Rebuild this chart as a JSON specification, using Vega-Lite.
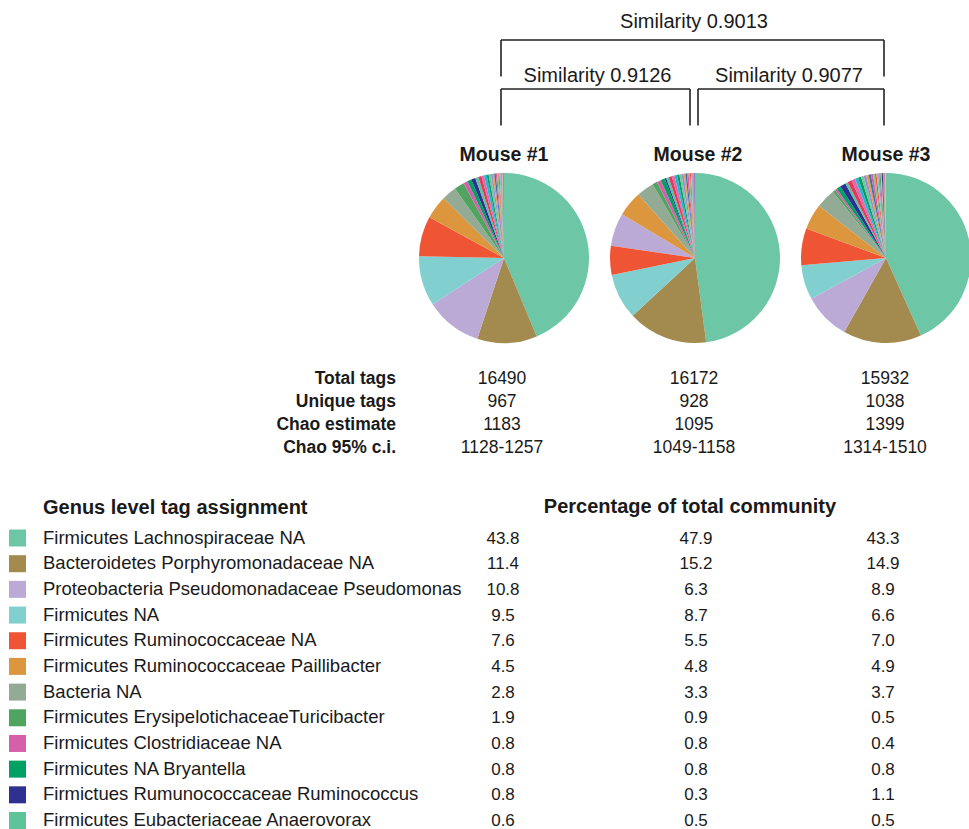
{
  "$schema": "https://vega.github.io/schema/vega-lite/v6.json",
  "width": 969,
  "height": 829,
  "padding": 0,
  "autosize": {"type": "none"},
  "background": "white",
  "config": {
    "view": {"stroke": null},
    "text": {"font": "Liberation Sans", "color": "#1a1a1a"}
  },
  "datasets": {
    "similarity": [
      {"label": "Similarity 0.9013", "from": 1, "to": 3, "level": 2},
      {"label": "Similarity 0.9126", "from": 1, "to": 2, "level": 1},
      {"label": "Similarity 0.9077", "from": 2, "to": 3, "level": 1}
    ],
    "mice": [
      {"mouse": 1, "name": "Mouse #1"},
      {"mouse": 2, "name": "Mouse #2"},
      {"mouse": 3, "name": "Mouse #3"}
    ],
    "stats": [
      {"stat": "Total tags", "mouse": 1, "value": "16490"},
      {"stat": "Total tags", "mouse": 2, "value": "16172"},
      {"stat": "Total tags", "mouse": 3, "value": "15932"},
      {"stat": "Unique tags", "mouse": 1, "value": "967"},
      {"stat": "Unique tags", "mouse": 2, "value": "928"},
      {"stat": "Unique tags", "mouse": 3, "value": "1038"},
      {"stat": "Chao estimate", "mouse": 1, "value": "1183"},
      {"stat": "Chao estimate", "mouse": 2, "value": "1095"},
      {"stat": "Chao estimate", "mouse": 3, "value": "1399"},
      {"stat": "Chao 95% c.i.", "mouse": 1, "value": "1128-1257"},
      {"stat": "Chao 95% c.i.", "mouse": 2, "value": "1049-1158"},
      {"stat": "Chao 95% c.i.", "mouse": 3, "value": "1314-1510"}
    ],
    "headers": [
      {"text": "Genus level tag assignment", "column": "taxon"},
      {"text": "Percentage of total community", "column": "percentage"}
    ],
    "community": [
      {"taxon": "Firmicutes Lachnospiraceae NA", "mouse": 1, "pct": 43.8, "slice": 1, "group": "named"},
      {"taxon": "Firmicutes Lachnospiraceae NA", "mouse": 2, "pct": 47.9, "slice": 1, "group": "named"},
      {"taxon": "Firmicutes Lachnospiraceae NA", "mouse": 3, "pct": 43.3, "slice": 1, "group": "named"},
      {"taxon": "Bacteroidetes Porphyromonadaceae NA", "mouse": 1, "pct": 11.4, "slice": 2, "group": "named"},
      {"taxon": "Bacteroidetes Porphyromonadaceae NA", "mouse": 2, "pct": 15.2, "slice": 2, "group": "named"},
      {"taxon": "Bacteroidetes Porphyromonadaceae NA", "mouse": 3, "pct": 14.9, "slice": 2, "group": "named"},
      {"taxon": "Proteobacteria Pseudomonadaceae Pseudomonas", "mouse": 1, "pct": 10.8, "slice": 3, "group": "named"},
      {"taxon": "Proteobacteria Pseudomonadaceae Pseudomonas", "mouse": 2, "pct": 6.3, "slice": 5, "group": "named"},
      {"taxon": "Proteobacteria Pseudomonadaceae Pseudomonas", "mouse": 3, "pct": 8.9, "slice": 3, "group": "named"},
      {"taxon": "Firmicutes NA", "mouse": 1, "pct": 9.5, "slice": 4, "group": "named"},
      {"taxon": "Firmicutes NA", "mouse": 2, "pct": 8.7, "slice": 3, "group": "named"},
      {"taxon": "Firmicutes NA", "mouse": 3, "pct": 6.6, "slice": 4, "group": "named"},
      {"taxon": "Firmicutes Ruminococcaceae NA", "mouse": 1, "pct": 7.6, "slice": 5, "group": "named"},
      {"taxon": "Firmicutes Ruminococcaceae NA", "mouse": 2, "pct": 5.5, "slice": 4, "group": "named"},
      {"taxon": "Firmicutes Ruminococcaceae NA", "mouse": 3, "pct": 7.0, "slice": 5, "group": "named"},
      {"taxon": "Firmicutes Ruminococcaceae Paillibacter", "mouse": 1, "pct": 4.5, "slice": 6, "group": "named"},
      {"taxon": "Firmicutes Ruminococcaceae Paillibacter", "mouse": 2, "pct": 4.8, "slice": 6, "group": "named"},
      {"taxon": "Firmicutes Ruminococcaceae Paillibacter", "mouse": 3, "pct": 4.9, "slice": 6, "group": "named"},
      {"taxon": "Bacteria NA", "mouse": 1, "pct": 2.8, "slice": 7, "group": "named"},
      {"taxon": "Bacteria NA", "mouse": 2, "pct": 3.3, "slice": 7, "group": "named"},
      {"taxon": "Bacteria NA", "mouse": 3, "pct": 3.7, "slice": 7, "group": "named"},
      {"taxon": "Firmicutes ErysipelotichaceaeTuricibacter", "mouse": 1, "pct": 1.9, "slice": 8, "group": "named"},
      {"taxon": "Firmicutes ErysipelotichaceaeTuricibacter", "mouse": 2, "pct": 0.9, "slice": 8, "group": "named"},
      {"taxon": "Firmicutes ErysipelotichaceaeTuricibacter", "mouse": 3, "pct": 0.5, "slice": 8, "group": "named"},
      {"taxon": "Firmicutes Clostridiaceae NA", "mouse": 1, "pct": 0.8, "slice": 9, "group": "named"},
      {"taxon": "Firmicutes Clostridiaceae NA", "mouse": 2, "pct": 0.8, "slice": 9, "group": "named"},
      {"taxon": "Firmicutes Clostridiaceae NA", "mouse": 3, "pct": 0.4, "slice": 9, "group": "named"},
      {"taxon": "Firmicutes NA Bryantella", "mouse": 1, "pct": 0.8, "slice": 10, "group": "named"},
      {"taxon": "Firmicutes NA Bryantella", "mouse": 2, "pct": 0.8, "slice": 10, "group": "named"},
      {"taxon": "Firmicutes NA Bryantella", "mouse": 3, "pct": 0.8, "slice": 10, "group": "named"},
      {"taxon": "Firmictues Rumunococcaceae Ruminococcus", "mouse": 1, "pct": 0.8, "slice": 11, "group": "named"},
      {"taxon": "Firmictues Rumunococcaceae Ruminococcus", "mouse": 2, "pct": 0.3, "slice": 11, "group": "named"},
      {"taxon": "Firmictues Rumunococcaceae Ruminococcus", "mouse": 3, "pct": 1.1, "slice": 11, "group": "named"},
      {"taxon": "Firmicutes Eubacteriaceae Anaerovorax", "mouse": 1, "pct": 0.6, "slice": 12, "group": "named"},
      {"taxon": "Firmicutes Eubacteriaceae Anaerovorax", "mouse": 2, "pct": 0.5, "slice": 12, "group": "named"},
      {"taxon": "Firmicutes Eubacteriaceae Anaerovorax", "mouse": 3, "pct": 0.5, "slice": 12, "group": "named"},

      {"taxon": "Other taxon 01", "mouse": 1, "pct": 0.6, "slice": 13, "group": "minor"},
      {"taxon": "Other taxon 02", "mouse": 1, "pct": 0.5, "slice": 14, "group": "minor"},
      {"taxon": "Other taxon 03", "mouse": 1, "pct": 0.5, "slice": 15, "group": "minor"},
      {"taxon": "Other taxon 04", "mouse": 1, "pct": 0.4, "slice": 16, "group": "minor"},
      {"taxon": "Other taxon 05", "mouse": 1, "pct": 0.4, "slice": 17, "group": "minor"},
      {"taxon": "Other taxon 06", "mouse": 1, "pct": 0.35, "slice": 18, "group": "minor"},
      {"taxon": "Other taxon 07", "mouse": 1, "pct": 0.3, "slice": 19, "group": "minor"},
      {"taxon": "Other taxon 08", "mouse": 1, "pct": 0.3, "slice": 20, "group": "minor"},
      {"taxon": "Other taxon 09", "mouse": 1, "pct": 0.25, "slice": 21, "group": "minor"},
      {"taxon": "Other taxon 10", "mouse": 1, "pct": 0.25, "slice": 22, "group": "minor"},
      {"taxon": "Other taxon 11", "mouse": 1, "pct": 0.2, "slice": 23, "group": "minor"},
      {"taxon": "Other taxon 12", "mouse": 1, "pct": 0.2, "slice": 24, "group": "minor"},
      {"taxon": "Other taxon 13", "mouse": 1, "pct": 0.15, "slice": 25, "group": "minor"},
      {"taxon": "Other taxon 14", "mouse": 1, "pct": 0.15, "slice": 26, "group": "minor"},
      {"taxon": "Other taxon 15", "mouse": 1, "pct": 0.15, "slice": 27, "group": "minor"},
      {"taxon": "Other taxon 16", "mouse": 1, "pct": 0.1, "slice": 28, "group": "minor"},
      {"taxon": "Other taxon 17", "mouse": 1, "pct": 0.1, "slice": 29, "group": "minor"},

      {"taxon": "Other taxon 01", "mouse": 2, "pct": 0.6, "slice": 13, "group": "minor"},
      {"taxon": "Other taxon 02", "mouse": 2, "pct": 0.5, "slice": 14, "group": "minor"},
      {"taxon": "Other taxon 03", "mouse": 2, "pct": 0.5, "slice": 15, "group": "minor"},
      {"taxon": "Other taxon 04", "mouse": 2, "pct": 0.45, "slice": 16, "group": "minor"},
      {"taxon": "Other taxon 05", "mouse": 2, "pct": 0.4, "slice": 17, "group": "minor"},
      {"taxon": "Other taxon 06", "mouse": 2, "pct": 0.4, "slice": 18, "group": "minor"},
      {"taxon": "Other taxon 07", "mouse": 2, "pct": 0.35, "slice": 19, "group": "minor"},
      {"taxon": "Other taxon 08", "mouse": 2, "pct": 0.3, "slice": 20, "group": "minor"},
      {"taxon": "Other taxon 09", "mouse": 2, "pct": 0.3, "slice": 21, "group": "minor"},
      {"taxon": "Other taxon 10", "mouse": 2, "pct": 0.25, "slice": 22, "group": "minor"},
      {"taxon": "Other taxon 11", "mouse": 2, "pct": 0.2, "slice": 23, "group": "minor"},
      {"taxon": "Other taxon 12", "mouse": 2, "pct": 0.2, "slice": 24, "group": "minor"},
      {"taxon": "Other taxon 13", "mouse": 2, "pct": 0.15, "slice": 25, "group": "minor"},
      {"taxon": "Other taxon 14", "mouse": 2, "pct": 0.15, "slice": 26, "group": "minor"},
      {"taxon": "Other taxon 15", "mouse": 2, "pct": 0.15, "slice": 27, "group": "minor"},
      {"taxon": "Other taxon 16", "mouse": 2, "pct": 0.1, "slice": 28, "group": "minor"},

      {"taxon": "Other taxon 01", "mouse": 3, "pct": 0.8, "slice": 13, "group": "minor"},
      {"taxon": "Other taxon 02", "mouse": 3, "pct": 0.7, "slice": 14, "group": "minor"},
      {"taxon": "Other taxon 03", "mouse": 3, "pct": 0.6, "slice": 15, "group": "minor"},
      {"taxon": "Other taxon 04", "mouse": 3, "pct": 0.6, "slice": 16, "group": "minor"},
      {"taxon": "Other taxon 05", "mouse": 3, "pct": 0.5, "slice": 17, "group": "minor"},
      {"taxon": "Other taxon 06", "mouse": 3, "pct": 0.5, "slice": 18, "group": "minor"},
      {"taxon": "Other taxon 07", "mouse": 3, "pct": 0.45, "slice": 19, "group": "minor"},
      {"taxon": "Other taxon 08", "mouse": 3, "pct": 0.45, "slice": 20, "group": "minor"},
      {"taxon": "Other taxon 09", "mouse": 3, "pct": 0.4, "slice": 21, "group": "minor"},
      {"taxon": "Other taxon 10", "mouse": 3, "pct": 0.35, "slice": 22, "group": "minor"},
      {"taxon": "Other taxon 11", "mouse": 3, "pct": 0.3, "slice": 23, "group": "minor"},
      {"taxon": "Other taxon 12", "mouse": 3, "pct": 0.3, "slice": 24, "group": "minor"},
      {"taxon": "Other taxon 13", "mouse": 3, "pct": 0.25, "slice": 25, "group": "minor"},
      {"taxon": "Other taxon 14", "mouse": 3, "pct": 0.25, "slice": 26, "group": "minor"},
      {"taxon": "Other taxon 15", "mouse": 3, "pct": 0.2, "slice": 27, "group": "minor"},
      {"taxon": "Other taxon 16", "mouse": 3, "pct": 0.2, "slice": 28, "group": "minor"},
      {"taxon": "Other taxon 17", "mouse": 3, "pct": 0.15, "slice": 29, "group": "minor"},
      {"taxon": "Other taxon 18", "mouse": 3, "pct": 0.15, "slice": 30, "group": "minor"},
      {"taxon": "Other taxon 19", "mouse": 3, "pct": 0.1, "slice": 31, "group": "minor"},
      {"taxon": "Other taxon 20", "mouse": 3, "pct": 0.1, "slice": 32, "group": "minor"},
      {"taxon": "Other taxon 21", "mouse": 3, "pct": 0.1, "slice": 33, "group": "minor"}
    ]
  },
  "resolve": {"scale": {"x": "independent", "y": "independent"}},
  "layer": [
    {
      "data": {"name": "similarity"},
      "mark": {"type": "rule", "color": "#222222", "strokeWidth": 1.6,
               "xOffset": {"expr": "datum.from == 2 ? 4 : 0"},
               "x2Offset": {"expr": "datum.to == 2 ? -4 : 0"}},
      "encoding": {
        "x": {"field": "from", "type": "quantitative", "scale": {"domain": [1, 2, 3], "range": [501, 694, 884]}, "axis": null},
        "x2": {"field": "to"},
        "y": {"field": "level", "type": "quantitative", "scale": {"domain": [1, 2], "range": [89, 40]}, "axis": null}
      }
    },
    {
      "data": {"name": "similarity"},
      "transform": [{"fold": ["from", "to"], "as": ["end", "mouse"]}],
      "mark": {"type": "rule", "color": "#222222", "strokeWidth": 1.6, "y2Offset": 36.5,
               "xOffset": {"expr": "datum.mouse == 2 ? (datum.end == 'to' ? -4 : 4) : 0"}},
      "encoding": {
        "x": {"field": "mouse", "type": "quantitative", "scale": {"domain": [1, 2, 3], "range": [501, 694, 884]}, "axis": null},
        "y": {"field": "level", "type": "quantitative", "scale": {"domain": [1, 2], "range": [89, 40]}, "axis": null},
        "y2": {"field": "level"}
      }
    },
    {
      "data": {"name": "similarity"},
      "transform": [
        {"fold": ["from", "to"], "as": ["end", "mouse"]},
        {"aggregate": [{"op": "mean", "field": "mouse", "as": "mid"}], "groupby": ["label", "level"]}
      ],
      "mark": {"type": "text", "fontSize": 20, "align": "center", "baseline": "alphabetic"},
      "encoding": {
        "x": {"field": "mid", "type": "quantitative", "scale": {"domain": [1, 2, 3], "range": [501, 694, 884]}, "axis": null},
        "y": {"field": "level", "type": "quantitative", "scale": {"domain": [1, 2], "range": [82, 28]}, "axis": null},
        "text": {"field": "label"}
      }
    },
    {
      "data": {"name": "mice"},
      "mark": {"type": "text", "fontSize": 19.5, "fontWeight": "bold", "align": "center", "baseline": "alphabetic"},
      "encoding": {
        "x": {"field": "mouse", "type": "quantitative", "scale": {"domain": [1, 2, 3], "range": [504, 698, 886]}, "axis": null},
        "y": {"datum": "title", "type": "nominal", "scale": {"type": "point", "domain": ["title"], "range": [161, 161]}, "axis": null},
        "text": {"field": "name"}
      }
    },
    {
      "data": {"name": "community"},
      "transform": [
        {"stack": "pct", "groupby": ["mouse"], "sort": [{"field": "slice", "order": "ascending"}], "offset": "normalize", "as": ["t0", "t1"]}
      ],
      "mark": {"type": "arc", "outerRadius": 85, "innerRadius": 0},
      "encoding": {
        "x": {"field": "mouse", "type": "nominal", "scale": {"type": "point", "padding": 0, "domain": [1, 2, 3], "range": [504, 886]}, "axis": null},
        "y": {"datum": "pie", "type": "nominal", "scale": {"type": "point", "domain": ["pie"], "range": [258, 258]}, "axis": null},
        "theta": {"field": "t0", "type": "quantitative", "stack": null, "scale": {"domain": [0, 1], "range": [0, 6.283185307]}},
        "theta2": {"field": "t1"},
        "color": {
          "field": "taxon", "type": "nominal", "legend": null,
          "scale": {
            "domain": ["Firmicutes Lachnospiraceae NA", "Bacteroidetes Porphyromonadaceae NA", "Proteobacteria Pseudomonadaceae Pseudomonas", "Firmicutes NA", "Firmicutes Ruminococcaceae NA", "Firmicutes Ruminococcaceae Paillibacter", "Bacteria NA", "Firmicutes ErysipelotichaceaeTuricibacter", "Firmicutes Clostridiaceae NA", "Firmicutes NA Bryantella", "Firmictues Rumunococcaceae Ruminococcus", "Firmicutes Eubacteriaceae Anaerovorax",
              "Other taxon 01", "Other taxon 02", "Other taxon 03", "Other taxon 04", "Other taxon 05", "Other taxon 06", "Other taxon 07", "Other taxon 08", "Other taxon 09", "Other taxon 10", "Other taxon 11", "Other taxon 12", "Other taxon 13", "Other taxon 14", "Other taxon 15", "Other taxon 16", "Other taxon 17", "Other taxon 18", "Other taxon 19", "Other taxon 20", "Other taxon 21"],
            "range": ["#6dc6a6", "#a38b4f", "#bcaad6", "#82cfcf", "#ef5535", "#dc963e", "#93ab94", "#4fa45f", "#d65fa9", "#00a163", "#2f3192", "#5cc39b",
              "#e8365d", "#e26aa8", "#22b6d6", "#0c9a5a", "#6dc6a6", "#9b8ec6", "#e0a050", "#3f6fb8", "#d65fa9", "#8fc36a", "#ef5535", "#7cc8d8", "#b07cc6", "#4fa45f", "#f0a0b0", "#2f3192", "#a38b4f", "#93ab94", "#e8365d", "#82cfcf", "#bcaad6"]
          }
        }
      }
    },
    {
      "data": {"name": "stats"},
      "transform": [{"filter": "datum.mouse == 1"}],
      "mark": {"type": "text", "fontSize": 17.5, "fontWeight": "bold", "align": "right", "baseline": "alphabetic"},
      "encoding": {
        "x": {"datum": "label", "type": "nominal", "scale": {"type": "point", "domain": ["label"], "range": [396, 396]}, "axis": null},
        "y": {"field": "stat", "type": "nominal", "scale": {"type": "point", "padding": 0, "domain": ["Total tags", "Unique tags", "Chao estimate", "Chao 95% c.i."], "range": [384, 453]}, "axis": null},
        "text": {"field": "stat"}
      }
    },
    {
      "data": {"name": "stats"},
      "mark": {"type": "text", "fontSize": 17.5, "align": "center", "baseline": "alphabetic"},
      "encoding": {
        "x": {"field": "mouse", "type": "quantitative", "scale": {"domain": [1, 2, 3], "range": [502, 694, 885]}, "axis": null},
        "y": {"field": "stat", "type": "nominal", "scale": {"type": "point", "padding": 0, "domain": ["Total tags", "Unique tags", "Chao estimate", "Chao 95% c.i."], "range": [384, 453]}, "axis": null},
        "text": {"field": "value"}
      }
    },
    {
      "data": {"name": "headers"},
      "transform": [{"filter": "datum.column == 'taxon'"}],
      "mark": {"type": "text", "fontSize": 20, "fontWeight": "bold", "align": "left", "baseline": "alphabetic"},
      "encoding": {
        "x": {"datum": "taxon", "type": "nominal", "scale": {"type": "point", "domain": ["taxon"], "range": [43, 43]}, "axis": null},
        "y": {"datum": "header", "type": "nominal", "scale": {"type": "point", "domain": ["header"], "range": [514, 514]}, "axis": null},
        "text": {"field": "text"}
      }
    },
    {
      "data": {"name": "headers"},
      "transform": [{"filter": "datum.column == 'percentage'"}],
      "mark": {"type": "text", "fontSize": 20, "fontWeight": "bold", "align": "center", "baseline": "alphabetic"},
      "encoding": {
        "x": {"datum": "percentage", "type": "nominal", "scale": {"type": "point", "domain": ["percentage"], "range": [690, 690]}, "axis": null},
        "y": {"datum": "header", "type": "nominal", "scale": {"type": "point", "domain": ["header"], "range": [513, 513]}, "axis": null},
        "text": {"field": "text"}
      }
    },
    {
      "data": {"name": "community"},
      "transform": [{"filter": "datum.group == 'named' && datum.mouse == 1"}],
      "mark": {"type": "square", "size": 289, "filled": true, "opacity": 1},
      "encoding": {
        "x": {"datum": "swatch", "type": "nominal", "scale": {"type": "point", "domain": ["swatch"], "range": [17.5, 17.5]}, "axis": null},
        "y": {"field": "taxon", "type": "nominal", "sort": null, "scale": {"type": "point", "padding": 0, "domain": ["Firmicutes Lachnospiraceae NA", "Bacteroidetes Porphyromonadaceae NA", "Proteobacteria Pseudomonadaceae Pseudomonas", "Firmicutes NA", "Firmicutes Ruminococcaceae NA", "Firmicutes Ruminococcaceae Paillibacter", "Bacteria NA", "Firmicutes ErysipelotichaceaeTuricibacter", "Firmicutes Clostridiaceae NA", "Firmicutes NA Bryantella", "Firmictues Rumunococcaceae Ruminococcus", "Firmicutes Eubacteriaceae Anaerovorax"], "range": [538, 820.5]}, "axis": null},
        "color": {
          "field": "taxon", "type": "nominal", "legend": null,
          "scale": {
            "domain": ["Firmicutes Lachnospiraceae NA", "Bacteroidetes Porphyromonadaceae NA", "Proteobacteria Pseudomonadaceae Pseudomonas", "Firmicutes NA", "Firmicutes Ruminococcaceae NA", "Firmicutes Ruminococcaceae Paillibacter", "Bacteria NA", "Firmicutes ErysipelotichaceaeTuricibacter", "Firmicutes Clostridiaceae NA", "Firmicutes NA Bryantella", "Firmictues Rumunococcaceae Ruminococcus", "Firmicutes Eubacteriaceae Anaerovorax",
              "Other taxon 01", "Other taxon 02", "Other taxon 03", "Other taxon 04", "Other taxon 05", "Other taxon 06", "Other taxon 07", "Other taxon 08", "Other taxon 09", "Other taxon 10", "Other taxon 11", "Other taxon 12", "Other taxon 13", "Other taxon 14", "Other taxon 15", "Other taxon 16", "Other taxon 17", "Other taxon 18", "Other taxon 19", "Other taxon 20", "Other taxon 21"],
            "range": ["#6dc6a6", "#a38b4f", "#bcaad6", "#82cfcf", "#ef5535", "#dc963e", "#93ab94", "#4fa45f", "#d65fa9", "#00a163", "#2f3192", "#5cc39b",
              "#e8365d", "#e26aa8", "#22b6d6", "#0c9a5a", "#6dc6a6", "#9b8ec6", "#e0a050", "#3f6fb8", "#d65fa9", "#8fc36a", "#ef5535", "#7cc8d8", "#b07cc6", "#4fa45f", "#f0a0b0", "#2f3192", "#a38b4f", "#93ab94", "#e8365d", "#82cfcf", "#bcaad6"]
          }
        }
      }
    },
    {
      "data": {"name": "community"},
      "transform": [{"filter": "datum.group == 'named' && datum.mouse == 1"}],
      "mark": {"type": "text", "fontSize": 18.5, "align": "left", "baseline": "alphabetic"},
      "encoding": {
        "x": {"datum": "label", "type": "nominal", "scale": {"type": "point", "domain": ["label"], "range": [43, 43]}, "axis": null},
        "y": {"field": "taxon", "type": "nominal", "sort": null, "scale": {"type": "point", "padding": 0, "domain": ["Firmicutes Lachnospiraceae NA", "Bacteroidetes Porphyromonadaceae NA", "Proteobacteria Pseudomonadaceae Pseudomonas", "Firmicutes NA", "Firmicutes Ruminococcaceae NA", "Firmicutes Ruminococcaceae Paillibacter", "Bacteria NA", "Firmicutes ErysipelotichaceaeTuricibacter", "Firmicutes Clostridiaceae NA", "Firmicutes NA Bryantella", "Firmictues Rumunococcaceae Ruminococcus", "Firmicutes Eubacteriaceae Anaerovorax"], "range": [543.5, 826]}, "axis": null},
        "text": {"field": "taxon"}
      }
    },
    {
      "data": {"name": "community"},
      "transform": [{"filter": "datum.group == 'named'"}],
      "mark": {"type": "text", "fontSize": 17, "align": "center", "baseline": "alphabetic"},
      "encoding": {
        "x": {"field": "mouse", "type": "quantitative", "scale": {"domain": [1, 2, 3], "range": [503, 696, 883]}, "axis": null},
        "y": {"field": "taxon", "type": "nominal", "sort": null, "scale": {"type": "point", "padding": 0, "domain": ["Firmicutes Lachnospiraceae NA", "Bacteroidetes Porphyromonadaceae NA", "Proteobacteria Pseudomonadaceae Pseudomonas", "Firmicutes NA", "Firmicutes Ruminococcaceae NA", "Firmicutes Ruminococcaceae Paillibacter", "Bacteria NA", "Firmicutes ErysipelotichaceaeTuricibacter", "Firmicutes Clostridiaceae NA", "Firmicutes NA Bryantella", "Firmictues Rumunococcaceae Ruminococcus", "Firmicutes Eubacteriaceae Anaerovorax"], "range": [543.5, 826]}, "axis": null},
        "text": {"field": "pct", "type": "quantitative", "format": ".1f"}
      }
    }
  ]
}
